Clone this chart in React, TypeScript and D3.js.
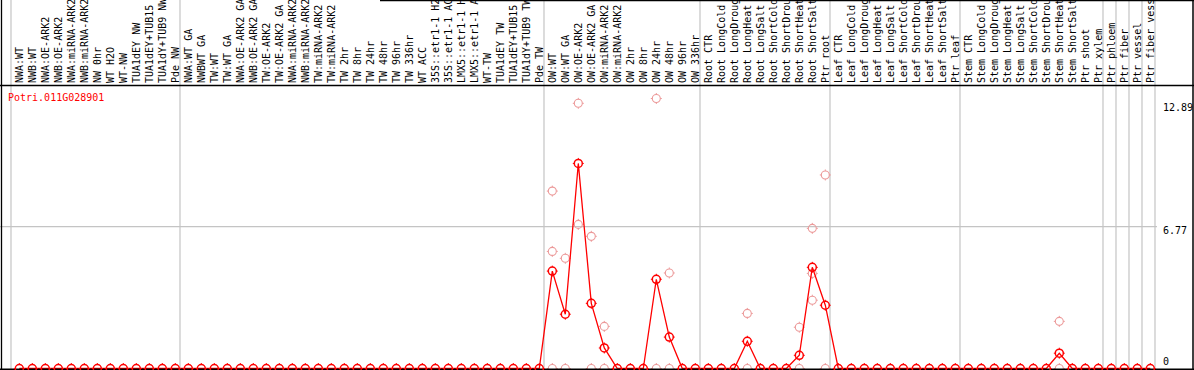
import React from 'react';
import * as d3 from 'd3';

const W = 1194;
const H = 370;

const labels: string[] = [
  'NWA:WT', 'NWB:WT', 'NWA:OE-ARK2', 'NWB:OE-ARK2', 'NWA:miRNA-ARK2', 'NWB:miRNA-ARK2', 'NW 0hr', 'WT H2O', 'WT-NW',
  'TUA1dEY NW', 'TUA1dEY+TUB15', 'TUA1dY+TUB9 NW', 'Pde NW',
  'NWA:WT GA', 'NWBWT GA', 'TW:WT', 'TW:WT GA', 'NWA:OE-ARK2 GA', 'NWB:OE-ARK2 GA', 'TW:OE-ARK2', 'TW:OE-ARK2 GA',
  'NWA:miRNA-ARK2', 'NWB:miRNA-ARK2', 'TW:miRNA-ARK2', 'TW:miRNA-ARK2', 'TW 2hr', 'TW 8hr', 'TW 24hr', 'TW 48hr',
  'TW 96hr', 'TW 336hr', 'WT ACC', '35S::etr1-1 H2', '35S::etr1-1 AC', 'LMX5::etr1-1 H', 'LMX5::etr1-1 A', 'WT-TW',
  'TUA1dEY TW', 'TUA1dEY+TUB15', 'TUA1dY+TUB9 TW', 'Pde TW',
  'OW:WT', 'OW:WT GA', 'OW:OE-ARK2', 'OW:OE-ARK2 GA', 'OW:miRNA-ARK2', 'OW:miRNA-ARK2', 'OW 2hr', 'OW 8hr', 'OW 24hr',
  'OW 48hr', 'OW 96hr', 'OW 336hr',
  'Root CTR', 'Root LongCold', 'Root LongDroug', 'Root LongHeat', 'Root LongSalt', 'Root ShortCold', 'Root ShortDrou',
  'Root ShortHeat', 'Root ShortSalt', 'Ptr root',
  'Leaf CTR', 'Leaf LongCold', 'Leaf LongDroug', 'Leaf LongHeat', 'Leaf LongSalt', 'Leaf ShortCold', 'Leaf ShortDrou',
  'Leaf ShortHeat', 'Leaf ShortSalt', 'Ptr leaf',
  'Stem CTR', 'Stem LongCold', 'Stem LongDroug', 'Stem LongHeat', 'Stem LongSalt', 'Stem ShortCold', 'Stem ShortDrou',
  'Stem ShortHeat', 'Stem ShortSalt', 'Ptr shoot', 'Ptr xylem',
  'Ptr phloem', 'Ptr fiber', 'Ptr vessel', 'Ptr fiber vess',
];

const groupSizes: number[] = [13, 28, 12, 10, 10, 11, 1, 1, 1, 1];

const meanValues: number[] = [
  0, 0, 0, 0, 0, 0, 0, 0, 0, 0, 0, 0, 0,
  0, 0, 0, 0, 0, 0, 0, 0, 0, 0, 0, 0, 0, 0, 0, 0, 0, 0, 0, 0, 0, 0, 0, 0, 0, 0, 0, 0,
  4.65, 2.59, 9.79, 3.11, 0.98, 0, 0, 0, 4.26, 1.5, 0, 0,
  0, 0, 0, 1.3, 0, 0, 0, 0.63, 4.83, 3.02,
  0, 0, 0, 0, 0, 0, 0, 0, 0, 0,
  0, 0, 0, 0, 0, 0, 0, 0.73, 0, 0, 0,
  0, 0, 0, 0,
];

const repIndex: number[] = [41, 41, 41, 42, 42, 43, 43, 44, 44, 45, 45, 49, 49, 50, 50, 56, 56, 60, 60, 61, 61, 61, 62, 62, 80, 80];
const repValue: number[] = [8.47, 5.59, 0, 5.26, 0, 12.66, 6.88, 6.31, 0, 2.01, 0, 12.89, 0, 4.56, 0, 2.63, 0, 1.97, 0, 6.69, 4.54, 3.26, 9.24, 0, 2.25, 0];

const yTicks: number[] = [0, 6.77, 12.89];
const geneName = 'Potri.011G028901';

const FONT = '"DejaVu Sans Mono", monospace';
const RED = '#ff0000';
const LIGHT = '#ec9a9a';
const GRID = '#c4c4c4';

function Marker({ cx, cy, color, sw }: { cx: number; cy: number; color: string; sw: number }) {
  const r = 4;
  return (
    <g>
      <circle cx={cx} cy={cy} r={r} fill="none" stroke={color} strokeWidth={sw} />
      <line x1={cx} x2={cx} y1={cy - r - 1.5} y2={cy - r} stroke={color} strokeWidth={1} />
      <line x1={cx} x2={cx} y1={cy + r} y2={cy + r + 1.5} stroke={color} strokeWidth={1} />
      <line x1={cx - r - 1.5} x2={cx - r} y1={cy} y2={cy} stroke={color} strokeWidth={1} />
      <line x1={cx + r} x2={cx + r + 1.5} y1={cy} y2={cy} stroke={color} strokeWidth={1} />
    </g>
  );
}

export default function App() {
  const idx = labels.map((_, i) => i);
  const x = d3.scalePoint<number>().domain(idx).range([19.3, 1150.3]);
  const y = d3.scaleLinear().domain([0, 12.89]).range([368.5, 98.5]);

  const boundaries: number[] = [];
  let acc = 0;
  boundaries.push(0);
  groupSizes.forEach((s) => {
    acc += s;
    boundaries.push(acc);
  });
  const step = x.step();
  const bx = (b: number) => (x(0) as number) + b * step - 8.3;

  const line = d3
    .line<number>()
    .x((_, i) => x(i) as number)
    .y((d) => y(d));

  return (
    <div style={{ position: 'absolute', left: 0, top: 0 }}>
      <svg width={W} height={H} style={{ display: 'block', background: '#fff' }}>
        {/* group separators */}
        {boundaries.map((b, i) => (
          <line key={'g' + i} x1={bx(b)} x2={bx(b)} y1={0} y2={H} stroke={GRID} strokeWidth={1.2} />
        ))}
        {/* horizontal grid at middle tick */}
        <line x1={0} x2={bx(labels.length) + 2} y1={y(6.77)} y2={y(6.77)} stroke={GRID} strokeWidth={1.2} />

        {/* column labels */}
        {labels.map((l, i) => (
          <text
            key={'l' + i}
            transform={`translate(${(x(i) as number) + 3.5},83) rotate(-90)`}
            fontFamily={FONT}
            fontSize={10}
            fill="#000"
          >
            {l}
          </text>
        ))}
        {/* header frame */}
        <line x1={0} x2={W} y1={85.5} y2={85.5} stroke="#000" strokeWidth={1.3} />
        <line x1={380} x2={W} y1={0.5} y2={0.5} stroke="#000" strokeWidth={1.3} />
        <line x1={1.5} x2={1.5} y1={0} y2={H} stroke="#000" strokeWidth={1.3} />
        <line x1={1193} x2={1193} y1={0} y2={H} stroke="#000" strokeWidth={1.5} />

        {/* gene title */}
        <text x={8} y={101} fontFamily={FONT} fontSize={10} fill={RED}>
          {geneName}
        </text>

        {/* y tick labels */}
        {yTicks.map((t) => (
          <text
            key={'t' + t}
            x={1163}
            y={Math.min(Math.max(y(t) + 7.5, 111), 365)}
            fontFamily={FONT}
            fontSize={10}
            fill="#000"
          >
            {String(t)}
          </text>
        ))}

        {/* replicate points */}
        {repIndex.map((ri, k) => (
          <Marker key={'r' + k} cx={x(ri) as number} cy={y(repValue[k])} color={LIGHT} sw={1.1} />
        ))}

        {/* mean line */}
        <path d={line(meanValues) || ''} fill="none" stroke={RED} strokeWidth={1.3} />

        {/* baseline */}
        <line x1={0} x2={W} y1={369.3} y2={369.3} stroke="#000" strokeWidth={1.5} />

        {/* mean points */}
        {meanValues.map((v, i) => (
          <Marker key={'m' + i} cx={x(i) as number} cy={y(v)} color={RED} sw={1.5} />
        ))}
      </svg>
    </div>
  );
}
